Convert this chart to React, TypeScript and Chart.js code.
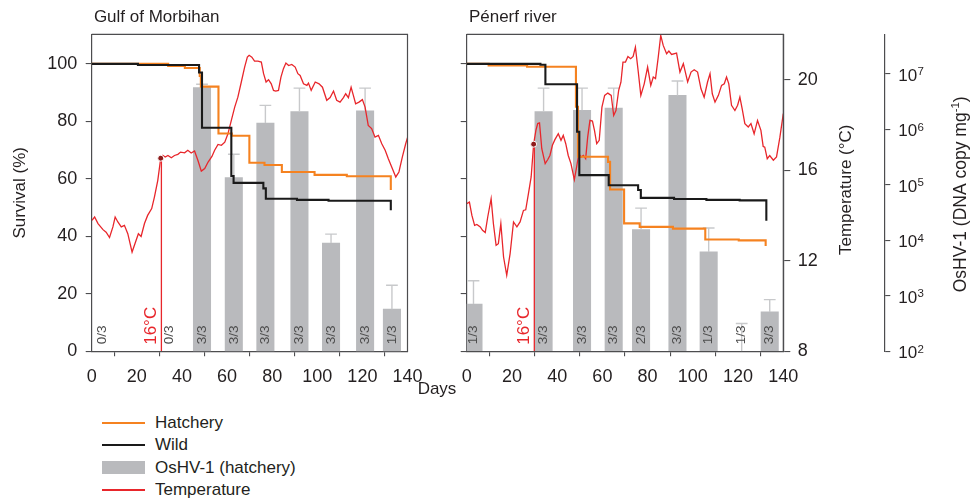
import React, { useEffect, useRef } from "react";
import { Chart, registerables } from "chart.js";

Chart.register(...registerables);

const FONT = "'Liberation Sans', Arial, Helvetica, sans-serif";
const TEXT = "#231f20";
const AXIS = "#4d4d4f";
const ORANGE = "#f58220";
const BLACK = "#1a1a1a";
const RED = "#e8262b";
const GREY = "#b9babd";
const ERR = "#c8c9cb";
const LABEL = "#4d4d4d";

Chart.defaults.font.family = FONT;

// ---------- ticks ----------
const dayTicks = [0, 20, 40, 60, 80, 100, 120, 140];
const survivalTicks = [0, 20, 40, 60, 80, 100];
const tempTicks = [8, 12, 16, 20];
const oshvExponents = [2, 3, 4, 5, 6, 7];

// ---------- Gulf of Morbihan ----------
const morbHatcheryDays = [0, 33.9, 41.3, 47.9, 48.4, 56.2, 62.1, 69.9, 76.6, 84.3, 98.8, 113.1, 132.6];
const morbHatcherySurv = [100, 99.3, 98.6, 95.8, 92.1, 75.8, 75.0, 65.6, 64.8, 62.4, 61.4, 60.9, 56.1];
const morbWildDays = [0, 20.5, 47.6, 48.9, 61.9, 62.9, 76.1, 77.2, 91.0, 105.0, 132.6];
const morbWildSurv = [100, 99.6, 97.0, 77.8, 61.0, 58.6, 56.7, 53.1, 52.7, 52.4, 49.1];

const morbTempDays = [
  0.1, 1.3, 2.8, 5.0, 6.4, 7.9, 9.4, 10.4, 11.6, 13.1, 14.5, 16.0, 17.9, 19.7, 20.7, 21.9, 23.4, 24.8, 26.6, 27.8,
  29.3, 30.6, 31.5, 32.6, 33.8, 35.3, 36.7, 38.2, 39.4, 41.2, 42.6, 44.1, 45.6, 47.1, 48.6, 50.1, 51.6, 53.3, 54.5, 56.0,
  57.5, 59.0, 60.4, 61.9, 63.4, 64.8, 66.3, 67.8, 69.0, 69.8, 71.0, 72.2, 73.7, 75.2, 76.2, 77.3, 78.4, 79.6, 80.6, 81.6,
  82.8, 83.9, 85.0, 86.1, 87.3, 88.7, 90.2, 91.4, 92.4, 93.9, 95.4, 96.1, 97.3, 99.1, 100.8, 102.3, 104.2, 105.7, 107.2, 108.6,
  110.1, 111.6, 112.6, 113.8, 115.0, 116.0, 117.0, 118.5, 120.0, 121.2, 122.6, 124.1, 125.6, 127.1, 128.6, 130.1, 131.5, 133.0, 134.8, 136.2,
  137.7, 139.2, 140.0,
];
const morbTempValues = [
  13.79, 13.94, 13.65, 13.38, 13.27, 13.03, 13.5, 13.94, 13.72, 13.5, 13.57, 13.2, 12.39, 12.91, 13.2, 13.08, 13.65, 14.01, 14.31, 14.82,
  15.56, 16.54, 16.66, 16.59, 16.66, 16.56, 16.66, 16.71, 16.81, 16.78, 16.89, 16.77, 16.86, 16.44, 15.97, 16.08, 16.37, 16.62, 16.89, 17.15,
  17.11, 17.25, 17.62, 18.21, 18.8, 19.24, 19.9, 20.57, 21.01, 21.09, 21.01, 20.83, 20.83, 20.79, 20.28, 19.91, 20.01, 19.83, 19.54, 19.51,
  19.54, 20.13, 20.5, 20.75, 20.64, 20.69, 20.57, 20.28, 20.2, 19.83, 19.76, 19.86, 19.54, 19.91, 19.83, 19.68, 19.1, 19.22, 19.51, 19.1,
  19.02, 19.22, 19.39, 19.22, 19.68, 19.32, 18.95, 19.02, 19.13, 18.8, 17.99, 17.85, 17.47, 17.55, 17.18, 16.89, 16.52, 16.15, 15.71, 15.93,
  16.59, 17.18, 17.45,
];

const morbSampleDays = [4.8, 34.4, 48.9, 63.0, 77.0, 92.1, 106.1, 121.2, 133.1];
const morbSampleLabels = ["0/3", "0/3", "3/3", "3/3", "3/3", "3/3", "3/3", "3/3", "1/3"];
const morbOshv = [null, null, 5.6e6, 1.35e5, 1.29e6, 2.09e6, 8.9e3, 2.14e6, 575];
const morbOshvHigh = [null, null, 6.46e6, 3.55e5, 2.69e6, 5.5e6, 1.29e4, 5.5e6, 1.55e3];
const morbThresholdDay = 30.9;
const morbThresholdTemp = 16.54;
const morbDotDay = 30.6;

// ---------- Pénerf river ----------
const penerfHatcheryDays = [0, 9.7, 26.7, 48.3, 49.2, 62.5, 63.4, 69.6, 76.5, 91.2, 105.5, 120.3, 132.2];
const penerfHatcherySurv = [100, 99.5, 99.0, 85.1, 67.7, 65.9, 56.3, 44.5, 43.3, 42.7, 38.9, 38.6, 36.6];
const penerfWildDays = [0, 32.6, 34.8, 48.8, 49.8, 62.8, 75.8, 77.0, 91.7, 106.0, 120.7, 132.5];
const penerfWildSurv = [100, 99.7, 92.9, 76.4, 61.3, 57.8, 56.1, 53.4, 53.0, 52.7, 52.5, 45.4];

const penerfTempDays = [
  0.1, 1.2, 2.3, 3.5, 4.5, 6.0, 7.0, 8.2, 9.3, 10.8, 11.8, 13.0, 14.0, 15.1, 16.3, 17.7, 19.2, 20.7, 22.2, 23.6,
  25.1, 26.1, 27.3, 28.5, 29.6, 30.6, 31.4, 32.2, 33.2, 34.7, 35.8, 36.8, 37.9, 39.0, 40.5, 41.7, 42.7, 43.8, 44.9, 46.1,
  47.6, 48.6, 49.6, 50.5, 51.6, 52.6, 53.5, 54.5, 55.6, 56.5, 57.5, 58.6, 59.8, 61.0, 62.4, 63.9, 65.0, 66.0, 67.2, 68.2,
  69.1, 70.2, 71.3, 72.5, 73.6, 74.6, 75.8, 77.0, 78.5, 80.0, 81.4, 82.5, 83.5, 84.7, 85.8, 86.9, 88.4, 89.4, 90.6, 92.8,
  94.3, 95.8, 97.7, 99.2, 100.6, 102.1, 103.6, 105.0, 106.5, 107.6, 108.6, 109.8, 111.3, 112.7, 113.9, 114.9, 115.9, 117.1, 118.6, 119.8,
  120.8, 121.8, 123.0, 124.5, 125.7, 127.1, 128.6, 130.1, 131.1, 131.8, 132.9, 134.0, 135.6, 137.0, 138.5, 140.0,
];
const penerfTempValues = [
  14.53, 14.6, 14.01, 13.57, 13.61, 13.5, 13.35, 13.25, 13.94, 14.75, 13.65, 12.69, 12.76, 13.65, 12.17, 11.36, 12.32, 13.72, 13.5, 13.72,
  14.23, 14.26, 14.97, 15.71, 17.16, 17.77, 18.07, 18.1, 16.96, 16.3, 16.47, 16.66, 17.11, 17.36, 17.62, 17.33, 17.55, 17.18, 16.66, 16.3,
  15.59, 16.15, 16.74, 16.59, 16.66, 16.52, 17.47, 18.21, 18.18, 17.77, 17.18, 17.33, 18.8, 19.32, 19.42, 19.32, 18.43, 18.65, 19.54, 19.9,
  20.79, 20.79, 21.04, 20.94, 21.04, 21.45, 20.42, 19.32, 19.83, 20.57, 19.76, 20.13, 20.06, 21.01, 21.97, 21.53, 21.16, 21.28, 21.13, 21.19,
  20.35, 20.72, 19.91, 20.35, 20.45, 20.35, 19.61, 19.24, 19.91, 20.28, 19.39, 19.02, 19.32, 19.76, 19.83, 20.13, 19.83, 18.88, 18.65, 18.88,
  19.24, 18.73, 18.07, 17.92, 18.07, 17.62, 18.21, 17.77, 17.06, 17.03, 16.52, 16.66, 16.45, 16.6, 17.47, 18.51,
];

const penerfSampleDays = [3.0, 34.0, 51.0, 65.0, 77.1, 93.2, 107.0, 121.6, 134.0];
const penerfSampleLabels = ["1/3", "3/3", "3/3", "3/3", "2/3", "3/3", "1/3", "1/3", "3/3"];
const penerfOshv = [708, 2.09e6, 2.19e6, 2.4e6, 1.55e4, 4.07e6, 6.17e3, null, 513];
const penerfOshvHigh = [1.86e3, 5.5e6, 5.5e6, 5.5e6, 3.8e4, 7.4e6, 1.66e4, 316, 851];
const penerfThresholdDay = 29.9;
const penerfThresholdTemp = 17.16;
const penerfDotDay = 29.6;

// ---------- axis ranges ----------
const SURV_MAX = 110.3;
const TEMP_MIN = 8;
const TEMP_MAX = 22.02;
const OSHV_MIN = 100;
const OSHV_MAX = 5.13e7;

type Panel = {
  title: string;
  hatcheryDays: number[];
  hatcherySurv: number[];
  wildDays: number[];
  wildSurv: number[];
  tempDays: number[];
  tempValues: number[];
  sampleDays: number[];
  sampleLabels: string[];
  oshv: (number | null)[];
  oshvHigh: (number | null)[];
  thresholdDay: number;
  thresholdTemp: number;
  dotDay: number;
};

const morbihan: Panel = {
  title: "Gulf of Morbihan",
  hatcheryDays: morbHatcheryDays,
  hatcherySurv: morbHatcherySurv,
  wildDays: morbWildDays,
  wildSurv: morbWildSurv,
  tempDays: morbTempDays,
  tempValues: morbTempValues,
  sampleDays: morbSampleDays,
  sampleLabels: morbSampleLabels,
  oshv: morbOshv,
  oshvHigh: morbOshvHigh,
  thresholdDay: morbThresholdDay,
  thresholdTemp: morbThresholdTemp,
  dotDay: morbDotDay,
};

const penerf: Panel = {
  title: "Pénerf river",
  hatcheryDays: penerfHatcheryDays,
  hatcherySurv: penerfHatcherySurv,
  wildDays: penerfWildDays,
  wildSurv: penerfWildSurv,
  tempDays: penerfTempDays,
  tempValues: penerfTempValues,
  sampleDays: penerfSampleDays,
  sampleLabels: penerfSampleLabels,
  oshv: penerfOshv,
  oshvHigh: penerfOshvHigh,
  thresholdDay: penerfThresholdDay,
  thresholdTemp: penerfThresholdTemp,
  dotDay: penerfDotDay,
};

type Geo = {
  width: number;
  height: number;
  leftW: number;
  padRight: number;
  padTop: number;
  xAxisH: number;
  showLeftLabels: boolean;
  showRight: boolean;
  tempW: number;
  logW: number;
  survTitleX?: number;
  tempTitleX?: number;
  oshvTitleX?: number;
};

const pts = (xs: number[], ys: (number | null)[]) => xs.map((x, i) => ({ x, y: ys[i] }));

function errorPoints(days: number[], tops: (number | null)[], highs: (number | null)[]) {
  const out: { x: number; y: number | null }[] = [];
  days.forEach((d, i) => {
    const h = highs[i];
    if (h == null) return;
    const base = tops[i] == null ? OSHV_MIN : (tops[i] as number);
    out.push({ x: d, y: base }, { x: d, y: h }, { x: d, y: null });
    out.push({ x: d - 2.6, y: h }, { x: d + 2.6, y: h }, { x: d, y: null });
  });
  return out;
}

function setTicks(values: number[]) {
  return (scale: any) => {
    scale.ticks = values.map((v) => ({ value: v }));
  };
}

function drawRotated(ctx: CanvasRenderingContext2D, text: string, x: number, y: number, align: CanvasTextAlign) {
  ctx.save();
  ctx.translate(x, y);
  ctx.rotate(-Math.PI / 2);
  ctx.textAlign = align;
  ctx.textBaseline = "middle";
  ctx.fillText(text, 0, 0);
  ctx.restore();
}

function makeDecor(panel: Panel, geo: Geo) {
  return {
    id: "decor",
    afterDraw(chart: any) {
      const ctx: CanvasRenderingContext2D = chart.ctx;
      const ca = chart.chartArea;
      const xs = chart.scales.x;
      ctx.save();
      // frame top + right
      ctx.strokeStyle = AXIS;
      ctx.lineWidth = 1.2;
      ctx.beginPath();
      ctx.moveTo(ca.left, ca.top);
      ctx.lineTo(ca.right, ca.top);
      ctx.lineTo(ca.right, ca.bottom);
      ctx.stroke();

      // panel title
      ctx.fillStyle = TEXT;
      ctx.font = `17px ${FONT}`;
      ctx.textAlign = "left";
      ctx.textBaseline = "middle";
      ctx.fillText(panel.title, ca.left + 2.2, 17.5);

      // sample labels
      ctx.font = `13.5px ${FONT}`;
      ctx.fillStyle = LABEL;
      panel.sampleDays.forEach((d, i) => {
        drawRotated(ctx, panel.sampleLabels[i], xs.getPixelForValue(d), ca.bottom - 7, "left");
      });

      // 16°C label
      ctx.font = `17px ${FONT}`;
      ctx.fillStyle = RED;
      drawRotated(ctx, "16°C", xs.getPixelForValue(panel.thresholdDay) - 10.5, ca.bottom - 6.5, "left");

      // axis titles
      ctx.fillStyle = TEXT;
      ctx.font = `17px ${FONT}`;
      const midY = (ca.top + ca.bottom) / 2;
      if (geo.survTitleX !== undefined) drawRotated(ctx, "Survival (%)", geo.survTitleX, midY, "center");
      if (geo.tempTitleX !== undefined) drawRotated(ctx, "Temperature (°C)", geo.tempTitleX, midY - 3, "center");

      if (geo.showRight) {
        const yL = chart.scales.yL;
        // log tick labels with superscripts
        const x0 = yL.left + 6 + 8;
        oshvExponents.forEach((e) => {
          const y = yL.getPixelForValue(Math.pow(10, e));
          ctx.font = `17px ${FONT}`;
          ctx.textAlign = "left";
          ctx.textBaseline = "middle";
          ctx.fillText("10", x0, y + 2.5);
          const w = ctx.measureText("10").width;
          ctx.font = `11.5px ${FONT}`;
          ctx.fillText(String(e), x0 + w + 0.3, y - 1.8);
        });
        // OsHV-1 title with superscript
        if (geo.oshvTitleX !== undefined) {
          const main = "OsHV-1 (DNA copy mg";
          const sup = "-1";
          const end = ")";
          ctx.font = `17.5px ${FONT}`;
          const w1 = ctx.measureText(main).width;
          const w3 = ctx.measureText(end).width;
          ctx.font = `11.5px ${FONT}`;
          const w2 = ctx.measureText(sup).width;
          const total = w1 + w2 + w3;
          ctx.save();
          ctx.translate(geo.oshvTitleX, midY + 1.5);
          ctx.rotate(-Math.PI / 2);
          ctx.textAlign = "left";
          ctx.textBaseline = "middle";
          let cx = -total / 2;
          ctx.font = `17.5px ${FONT}`;
          ctx.fillText(main, cx, 0);
          cx += w1;
          ctx.font = `11.5px ${FONT}`;
          ctx.fillText(sup, cx, -5.5);
          cx += w2;
          ctx.font = `17.5px ${FONT}`;
          ctx.fillText(end, cx, 0);
          ctx.restore();
        }
      }
      ctx.restore();
    },
  };
}

function makeChart(canvas: HTMLCanvasElement, panel: Panel, geo: Geo) {
  const barPoints = panel.sampleDays
    .map((d, i) => ({ x: d, y: panel.oshv[i] }))
    .filter((p) => p.y != null);

  const tickFont = { size: 18, family: FONT };

  return new Chart(canvas, {
    type: "line",
    data: {
      datasets: [
        {
          type: "line",
          label: "Wild",
          data: pts(panel.wildDays, panel.wildSurv),
          stepped: true,
          borderColor: BLACK,
          borderWidth: 2.1,
          pointRadius: 0,
          fill: false,
          yAxisID: "y",
          order: 0,
        },
        {
          type: "line",
          label: "Hatchery",
          data: pts(panel.hatcheryDays, panel.hatcherySurv),
          stepped: true,
          borderColor: ORANGE,
          borderWidth: 2.1,
          pointRadius: 0,
          fill: false,
          yAxisID: "y",
          order: 1,
        },
        {
          type: "line",
          label: "16 °C point",
          data: [{ x: panel.dotDay, y: panel.thresholdTemp }],
          showLine: false,
          pointRadius: 3,
          pointBackgroundColor: "#8e1b1b",
          pointBorderColor: "#ffffff",
          pointBorderWidth: 1,
          yAxisID: "yT",
          order: -1,
        },
        {
          type: "line",
          label: "Temperature",
          data: pts(panel.tempDays, panel.tempValues),
          borderColor: RED,
          borderWidth: 1.3,
          pointRadius: 0,
          tension: 0,
          fill: false,
          yAxisID: "yT",
          order: 2,
        },
        {
          type: "line",
          label: "16 °C line",
          data: [
            { x: panel.thresholdDay, y: TEMP_MIN },
            { x: panel.thresholdDay, y: panel.thresholdTemp },
          ],
          borderColor: RED,
          borderWidth: 1.3,
          pointRadius: 0,
          yAxisID: "yT",
          order: 3,
        },
        {
          type: "line",
          label: "error",
          data: errorPoints(panel.sampleDays, panel.oshv, panel.oshvHigh),
          borderColor: ERR,
          borderWidth: 1.4,
          pointRadius: 0,
          spanGaps: false,
          yAxisID: "yL",
          order: 4,
        },
        {
          type: "bar",
          label: "OsHV-1 (hatchery)",
          data: barPoints as any,
          backgroundColor: GREY,
          borderWidth: 0,
          barThickness: 17.4,
          base: OSHV_MIN,
          grouped: false,
          yAxisID: "yL",
          order: 5,
        } as any,
      ],
    },
    options: {
      responsive: false,
      maintainAspectRatio: false,
      animation: false,
      events: [],
      layout: { padding: { left: 0, right: geo.padRight, top: geo.padTop, bottom: 0 } },
      plugins: {
        legend: { display: false },
        tooltip: { enabled: false },
        title: { display: false },
      },
      scales: {
        x: {
          type: "linear",
          min: 0,
          max: 140,
          offset: false,
          afterBuildTicks: setTicks(dayTicks),
          afterFit: (s: any) => {
            s.height = geo.xAxisH;
          },
          ticks: { font: tickFont, color: TEXT, padding: 9.5, maxRotation: 0, autoSkip: false },
          grid: { drawOnChartArea: false, drawTicks: true, tickLength: 5, color: AXIS, lineWidth: 1.1 },
          border: { display: true, color: AXIS, width: 1.2 },
        },
        y: {
          type: "linear",
          position: "left",
          min: 0,
          max: SURV_MAX,
          afterBuildTicks: setTicks(survivalTicks),
          afterFit: (s: any) => {
            s.width = geo.leftW;
          },
          ticks: { display: geo.showLeftLabels, font: tickFont, color: TEXT, padding: 8.5 },
          grid: { drawOnChartArea: false, drawTicks: true, tickLength: 6, color: AXIS, lineWidth: 1.1 },
          border: { display: true, color: AXIS, width: 1.2 },
        },
        yT: {
          type: "linear",
          position: "right",
          display: geo.showRight,
          weight: 0,
          min: TEMP_MIN,
          max: TEMP_MAX,
          afterBuildTicks: setTicks(tempTicks),
          afterFit: (s: any) => {
            s.width = geo.tempW;
          },
          ticks: { font: tickFont, color: TEXT, padding: 7.5 },
          grid: { drawOnChartArea: false, drawTicks: true, tickLength: 7, color: AXIS, lineWidth: 1.1 },
          border: { display: true, color: AXIS, width: 1.2 },
        },
        yL: {
          type: "logarithmic",
          position: "right",
          display: geo.showRight,
          weight: 1,
          min: OSHV_MIN,
          max: OSHV_MAX,
          afterBuildTicks: setTicks(oshvExponents.map((e) => Math.pow(10, e))),
          afterFit: (s: any) => {
            s.width = geo.logW;
          },
          ticks: { display: false },
          grid: { drawOnChartArea: false, drawTicks: true, tickLength: 6, color: AXIS, lineWidth: 1.1 },
          border: { display: true, color: AXIS, width: 1.2 },
        },
      } as any,
    },
    plugins: [makeDecor(panel, geo)],
  } as any);
}

const geoLeft: Geo = {
  width: 440,
  height: 400,
  leftW: 91.7,
  padRight: 32.5,
  padTop: 34.3,
  xAxisH: 48.7,
  showLeftLabels: true,
  showRight: false,
  tempW: 0,
  logW: 0,
  survTitleX: 20,
};

const geoRight: Geo = {
  width: 531,
  height: 400,
  leftW: 26.7,
  padRight: 0,
  padTop: 34.3,
  xAxisH: 48.7,
  showLeftLabels: false,
  showRight: true,
  tempW: 101,
  logW: 86.7,
  tempTitleX: 406,
  oshvTitleX: 521.5,
};

const legendItems = [
  { label: "Hatchery", color: ORANGE, thickness: 2 },
  { label: "Wild", color: BLACK, thickness: 2 },
  { label: "OsHV-1 (hatchery)", color: GREY, thickness: 13 },
  { label: "Temperature", color: RED, thickness: 1.6 },
];

export default function App() {
  const leftRef = useRef<HTMLCanvasElement | null>(null);
  const rightRef = useRef<HTMLCanvasElement | null>(null);

  useEffect(() => {
    const c1 = makeChart(leftRef.current as HTMLCanvasElement, morbihan, geoLeft);
    const c2 = makeChart(rightRef.current as HTMLCanvasElement, penerf, geoRight);
    return () => {
      c1.destroy();
      c2.destroy();
    };
  }, []);

  const rowY = [422.7, 445, 467.5, 489.5];

  return (
    <div
      style={{
        position: "absolute",
        left: 0,
        top: 0,
        width: 971,
        height: 501,
        background: "#ffffff",
        fontFamily: FONT,
        color: TEXT,
        overflow: "hidden",
      }}
    >
      <canvas
        ref={leftRef}
        width={geoLeft.width}
        height={geoLeft.height}
        style={{ position: "absolute", left: 0, top: 0, width: geoLeft.width, height: geoLeft.height }}
      />
      <canvas
        ref={rightRef}
        width={geoRight.width}
        height={geoRight.height}
        style={{ position: "absolute", left: 440, top: 0, width: geoRight.width, height: geoRight.height }}
      />
      <div
        style={{
          position: "absolute",
          left: 387,
          top: 379,
          width: 100,
          textAlign: "center",
          fontSize: 17,
          lineHeight: "20px",
        }}
      >
        Days
      </div>
      {legendItems.map((it, i) => (
        <React.Fragment key={it.label}>
          <div
            style={{
              position: "absolute",
              left: 102,
              top: Math.round(rowY[i] - it.thickness / 2),
              width: 43,
              height: it.thickness,
              background: it.color,
            }}
          />
          <div
            style={{
              position: "absolute",
              left: 155,
              top: rowY[i] - 10,
              fontSize: 17,
              lineHeight: "20px",
              whiteSpace: "nowrap",
            }}
          >
            {it.label}
          </div>
        </React.Fragment>
      ))}
    </div>
  );
}
